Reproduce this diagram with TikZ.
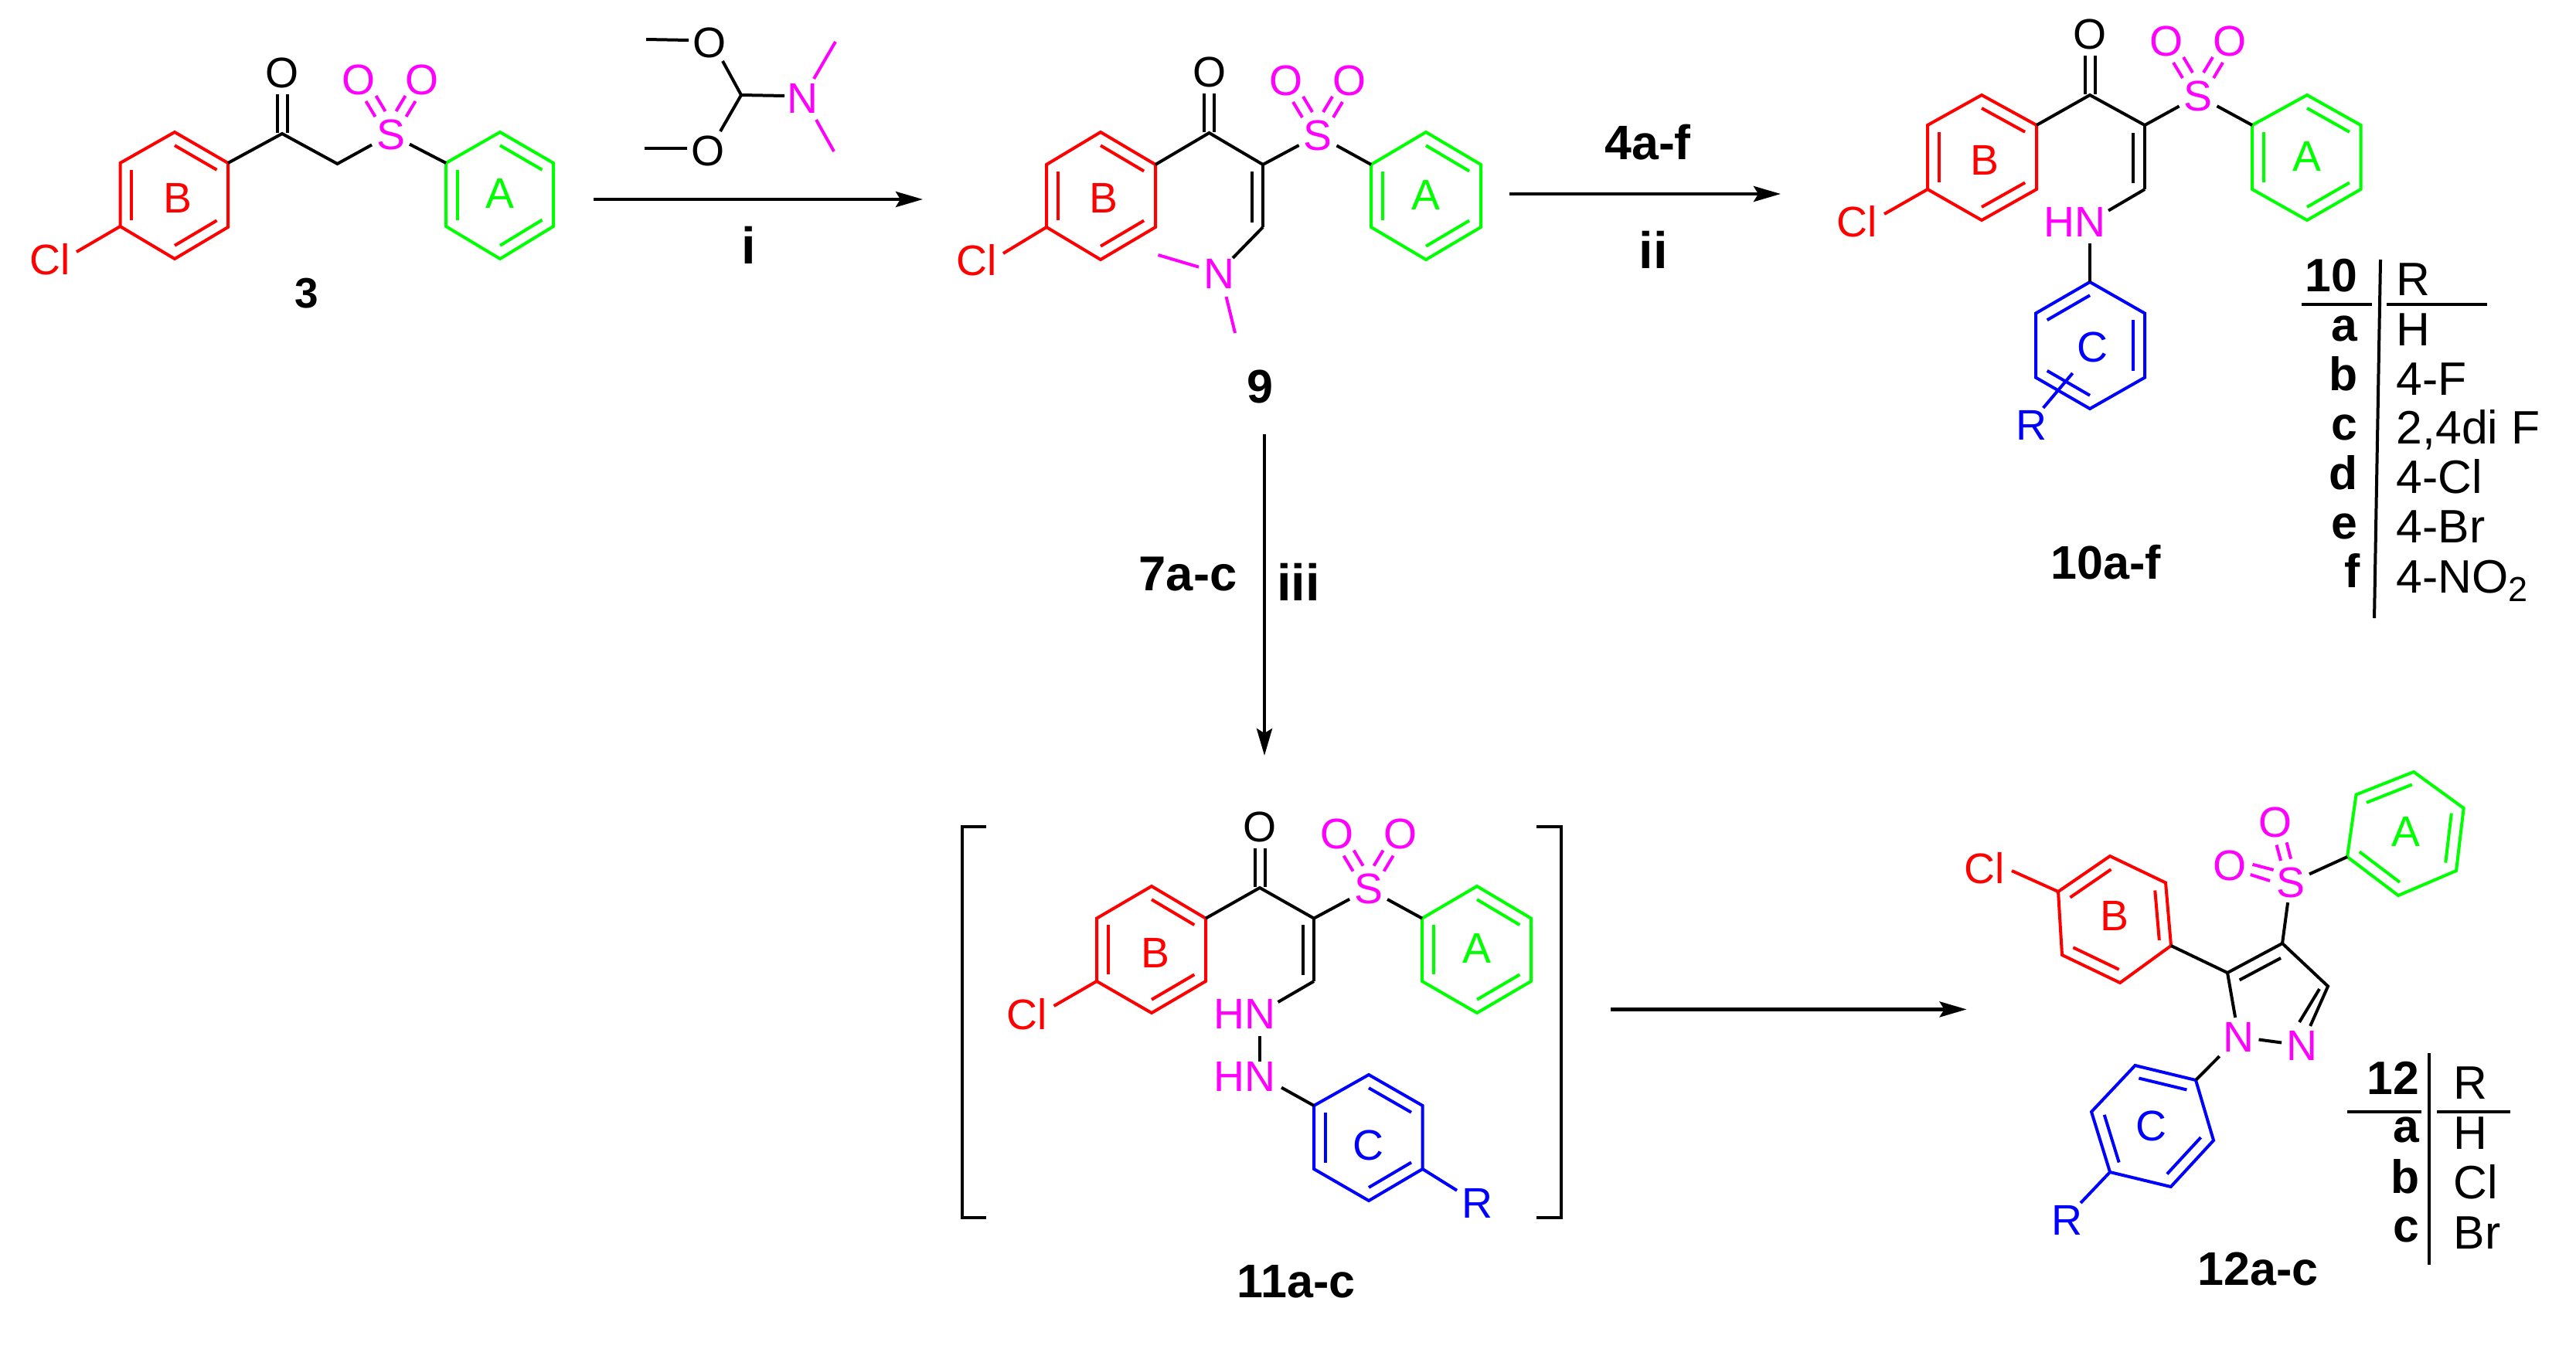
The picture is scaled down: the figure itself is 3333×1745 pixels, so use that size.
\documentclass[tikz,border=0pt]{standalone}
\usepackage{fontspec}
\setmainfont{Liberation Sans}
\usetikzlibrary{calc,arrows.meta}
\definecolor{cred}{RGB}{255,0,0}
\definecolor{cgreen}{RGB}{0,255,0}
\definecolor{cblue}{RGB}{0,0,255}
\definecolor{cmag}{RGB}{255,0,255}
\newcommand\atomfs{\fontsize{16.6}{18}\selectfont}
\newcommand\tabfs{\fontsize{18.2}{20}\selectfont}
\newcommand\cmpfs{\fontsize{18.3}{20}\selectfont\bfseries}
\tikzset{
  atomlab/.style={inner sep=1.8pt,outer sep=0pt,font=\atomfs},
  ringlab/.style={inner sep=0pt,font=\atomfs},
  baselab/.style={inner sep=0pt,anchor=base,font=\cmpfs},
  boldtab/.style={inner sep=0pt,anchor=base east,font=\tabfs\bfseries},
  plaintab/.style={inner sep=0pt,anchor=base west,font=\tabfs},
  bond/.style={line width=1.2pt},
  tabline/.style={line width=1.2pt},
  brk/.style={line width=1.2pt},
  rxn/.style={line width=1.4pt,-{Stealth[length=10.5pt,width=6pt,inset=1.8pt]}},
}
% ring: name, colour, six vertices
\newcommand\ringsix[8]{%
  \coordinate (#1-1) at (#3);\coordinate (#1-2) at (#4);\coordinate (#1-3) at (#5);
  \coordinate (#1-4) at (#6);\coordinate (#1-5) at (#7);\coordinate (#1-6) at (#8);
  \coordinate (#1-c) at ($(#1-1)!.5!(#1-4)$);
  \draw[bond,#2] (#1-1)--(#1-2)--(#1-3)--(#1-4)--(#1-5)--(#1-6)--cycle;}
% inner line of a double bond in ring: name, colour, i, j
\newcommand\rdbl[4]{\draw[bond,#2] ($(#1-#3)!.21!(#1-c)$) -- ($(#1-#4)!.21!(#1-c)$);}
% bond with two named free ends
\newcommand\bnd[4]{\coordinate (#2a) at (#3);\coordinate (#2b) at (#4);\draw[bond,#1] (#2a)--(#2b);}
% sulfone: name, x,y
\newcommand\sulfone[2]{%
  \begin{scope}[shift={(#2)}]
  \node[atomlab,text=cmag] (#1s) at (0,0) {S};
  \node[atomlab,text=cmag] (#1ol) at (-41,-71) {O};
  \node[atomlab,text=cmag] (#1or) at (41,-71) {O};
  \bnd{cmag}{#1p}{-32,-43}{-20,-23}
  \bnd{cmag}{#1q}{-19,-50}{-7,-30}
  \bnd{cmag}{#1r}{32,-43}{20,-23}
  \bnd{cmag}{#1t}{19,-50}{7,-30}
  \end{scope}}
% carbonyl: name, x,y
\newcommand\carbonyl[2]{%
  \begin{scope}[shift={(#2)}]
  \coordinate (#1c) at (0,0);
  \node[atomlab] (#1o) at (0,-79) {O};
  \bnd{black}{#1p}{-6.5,-51}{-6.5,-1}
  \bnd{black}{#1q}{6.5,-51}{6.5,-1}
  \end{scope}}
\begin{document}
\begin{tikzpicture}[x=0.3pt,y=-0.3pt]
\useasboundingbox (0,0) rectangle (3333,1745);
\fill[white] (0,0) rectangle (3333,1745);

% ---------- compound 3
\ringsix{b3}{cred}{226,171}{295,211}{295,294}{226,335}{155.5,293}{155.5,211}
\rdbl{b3}{cred}{1}{2}\rdbl{b3}{cred}{3}{4}\rdbl{b3}{cred}{5}{6}
\ringsix{a3}{cgreen}{647,171}{716,211}{716,293}{647,335}{577,293}{577,211}
\rdbl{a3}{cgreen}{1}{2}\rdbl{a3}{cgreen}{3}{4}\rdbl{a3}{cgreen}{5}{6}
\node[ringlab,text=cred] (lb3) at (230,256) {B};
\node[ringlab,text=cgreen] (la3) at (647,250) {A};
\node[atomlab,text=cred] (cl3) at (64.5,336) {Cl};
\coordinate (cl3e) at (99,326);
\draw[bond,cred] (b3-5) -- (cl3e);
\carbonyl{co3}{365,173}
\coordinate (ch3) at (436.5,212);
\sulfone{so3}{505.5,174}
\draw[bond] (b3-2) -- (co3c) -- (ch3) -- (so3s);
\draw[bond] (so3s) -- (a3-6);
\node[baselab,font=\fontsize{16.5}{18}\selectfont\bfseries] (n3) at (397,398) {3};

% ---------- reagent
\node[atomlab] (ro1) at (918.5,55) {O};
\node[atomlab] (ro2) at (915.6,195) {O};
\node[atomlab,text=cmag] (rn) at (1038,127) {N};
\coordinate (rc) at (959,123);
\bnd{black}{rm1}{836,51}{891,52}
\bnd{black}{rm2}{834,192}{889,192}
\bnd{black}{rb1}{935,79}{959,123}
\bnd{black}{rb2}{932,170}{959,123}
\bnd{black}{rb3}{959,123}{1015,124}
\bnd{cmag}{rb4}{1053,102}{1081,54}
\bnd{cmag}{rb5}{1056,155}{1079,196}

% ---------- compound 9
\ringsix{b9}{cred}{1424,171}{1495,213}{1495,294}{1424,336}{1354,294}{1354,213}
\rdbl{b9}{cred}{1}{2}\rdbl{b9}{cred}{3}{4}\rdbl{b9}{cred}{5}{6}
\ringsix{a9}{cgreen}{1845,171}{1916,213}{1916,294}{1845,336}{1774,294}{1774,213}
\rdbl{a9}{cgreen}{1}{2}\rdbl{a9}{cgreen}{3}{4}\rdbl{a9}{cgreen}{5}{6}
\node[ringlab,text=cred] (lb9) at (1428,256) {B};
\node[ringlab,text=cgreen] (la9) at (1845,252) {A};
\node[atomlab,text=cred] (cl9) at (1264,337) {Cl};
\coordinate (cl9e) at (1298,328);
\draw[bond,cred] (b9-5) -- (cl9e);
\carbonyl{co9}{1564.5,172}
\coordinate (al9) at (1634,213);
\coordinate (vi9) at (1634,294);
\sulfone{so9}{1705,175}
\draw[bond] (b9-2) -- (co9c) -- (al9) -- (so9s);
\draw[bond] (so9s) -- (a9-6);
\draw[bond] (al9) -- (vi9);
\bnd{black}{in9}{1619.5,222}{1619.5,288}
\node[atomlab,text=cmag] (n9) at (1577,354) {N};
\coordinate (n9e) at (1595,334);
\draw[bond] (vi9) -- (n9e);
\bnd{cmag}{m9a}{1498.5,330}{1551,345.6}
\bnd{cmag}{m9b}{1586.5,384}{1598,431}
\node[baselab] (l9) at (1630,521) {9};

% ---------- compound 10
\ringsix{b10}{cred}{2564,123}{2635,162}{2635,245}{2564,285}{2494,245}{2494,162}
\rdbl{b10}{cred}{1}{2}\rdbl{b10}{cred}{3}{4}\rdbl{b10}{cred}{5}{6}
\ringsix{a10}{cgreen}{2985,123}{3054.5,162}{3054.5,245}{2985,285}{2914,245}{2914,162}
\rdbl{a10}{cgreen}{1}{2}\rdbl{a10}{cgreen}{3}{4}\rdbl{a10}{cgreen}{5}{6}
\node[ringlab,text=cred] (lb10) at (2568,207.5) {B};
\node[ringlab,text=cgreen] (la10) at (2985,202) {A};
\node[atomlab,text=cred] (cl10) at (2403,287) {Cl};
\coordinate (cl10e) at (2438,277);
\draw[bond,cred] (b10-5) -- (cl10e);
\carbonyl{co10}{2704,123}
\coordinate (al10) at (2775,162);
\coordinate (vi10) at (2775,245);
\sulfone{so10}{2844,124}
\draw[bond] (b10-2) -- (co10c) -- (al10) -- (so10s);
\draw[bond] (so10s) -- (a10-6);
\draw[bond] (al10) -- (vi10);
\bnd{black}{in10}{2759.7,172}{2759.7,236.6}
\node[atomlab,text=cmag] (hn10) at (2684,287) {HN};
\coordinate (hn10e) at (2728,272.6);
\coordinate (hn10s) at (2704,315);
\draw[bond] (vi10) -- (hn10e);
\ringsix{c10}{cblue}{2704,365}{2775,405.5}{2775,488.6}{2704,529}{2634,488.6}{2634,405.5}
\rdbl{c10}{cblue}{6}{1}\rdbl{c10}{cblue}{2}{3}\rdbl{c10}{cblue}{4}{5}
\draw[bond] (hn10s) -- (c10-1);
\node[ringlab,text=cblue] (lc10) at (2707,449) {C};
\node[atomlab,text=cblue] (r10) at (2628.5,550.5) {R};
\bnd{cblue}{rb10}{2643.6,528}{2681.6,483}
\node[baselab] (l10) at (2725,749) {10a-f};

% table 10
\draw[tabline] (3080,336) coordinate (tv10a) -- (3072,800) coordinate (tv10b);
\draw[tabline] (2978,394) coordinate (th10a) -- (3069,394) coordinate (th10b);
\draw[tabline] (3088,394) coordinate (th10c) -- (3218,394) coordinate (th10d);
\node[boldtab] (t10h) at (3051,377) {10};
\node[plaintab] (t10r) at (3100,382) {R};
\node[boldtab] (t10a) at (3051,441) {a};
\node[plaintab] (t10aa) at (3100,447) {H};
\node[boldtab] (t10b) at (3051,505.6) {b};
\node[plaintab] (t10bb) at (3100,511) {4-F};
\node[boldtab] (t10c) at (3051,569) {c};
\node[plaintab] (t10cc) at (3100,574) {2,4di F};
\node[boldtab] (t10d) at (3051,633.7) {d};
\node[plaintab] (t10dd) at (3100,638) {4-Cl};
\node[boldtab] (t10e) at (3051,697.7) {e};
\node[plaintab] (t10ee) at (3100,702.5) {4-Br};
\node[boldtab] (t10f) at (3054,760.7) {f};
\node[plaintab] (t10ff) at (3100,767.6) {4-NO\raisebox{-3.2pt}{\fontsize{13.5}{14}\selectfont 2}};

% ---------- compound 11
\draw[brk] (1276,1070) coordinate (bl1) -- (1245,1070) -- (1245,1576) -- (1276,1576) coordinate (bl2);
\draw[brk] (1988,1070) coordinate (br1) -- (2020,1070) -- (2020,1576) -- (1988,1576) coordinate (br2);
\ringsix{b11}{cred}{1490,1147}{1560,1188.6}{1560,1270}{1490,1311}{1419,1270}{1419,1188.6}
\rdbl{b11}{cred}{1}{2}\rdbl{b11}{cred}{3}{4}\rdbl{b11}{cred}{5}{6}
\ringsix{a11}{cgreen}{1911,1147}{1981,1188.6}{1981,1270}{1911,1311}{1840,1270}{1840,1188.6}
\rdbl{a11}{cgreen}{1}{2}\rdbl{a11}{cgreen}{3}{4}\rdbl{a11}{cgreen}{5}{6}
\node[ringlab,text=cred] (lb11) at (1494.5,1233) {B};
\node[ringlab,text=cgreen] (la11) at (1911,1227) {A};
\node[atomlab,text=cred] (cl11) at (1329,1312.6) {Cl};
\coordinate (cl11e) at (1363.6,1302);
\draw[bond,cred] (b11-5) -- (cl11e);
\carbonyl{co11}{1630,1149}
\coordinate (al11) at (1700,1188.6);
\coordinate (vi11) at (1700,1270);
\sulfone{so11}{1770.6,1150.6}
\draw[bond] (b11-2) -- (co11c) -- (al11) -- (so11s);
\draw[bond] (so11s) -- (a11-6);
\draw[bond] (al11) -- (vi11);
\bnd{black}{in11}{1686,1197}{1686,1262}
\node[atomlab,text=cmag] (hn11a) at (1610,1312.6) {HN};
\node[atomlab,text=cmag] (hn11b) at (1610,1393) {HN};
\coordinate (hn11e) at (1653.5,1297);
\draw[bond] (vi11) -- (hn11e);
\bnd{black}{nn11}{1630,1341}{1630,1374}
\ringsix{c11}{cblue}{1771,1391}{1840.6,1431}{1840.6,1513}{1771,1554}{1700,1513}{1700,1431}
\rdbl{c11}{cblue}{1}{2}\rdbl{c11}{cblue}{3}{4}\rdbl{c11}{cblue}{5}{6}
\coordinate (hn11f) at (1658,1407.6);
\draw[bond] (hn11f) -- (c11-6);
\node[ringlab,text=cblue] (lc11) at (1770,1482) {C};
\node[atomlab,text=cblue] (r11) at (1911,1557) {R};
\draw[bond,cblue] (c11-3) -- (r11);
\node[baselab] (l11) at (1677,1679) {11a-c};

% ---------- compound 12
\ringsix{b12}{cred}{2730,1108}{2802,1142.5}{2809,1224}{2743,1272}{2668,1236}{2663,1154}
\rdbl{b12}{cred}{6}{1}\rdbl{b12}{cred}{2}{3}\rdbl{b12}{cred}{4}{5}
\ringsix{a12}{cgreen}{3037,1109}{3048.5,1028.5}{3123,999}{3187.6,1046}{3178,1127}{3103,1159}
\rdbl{a12}{cgreen}{1}{6}\rdbl{a12}{cgreen}{2}{3}\rdbl{a12}{cgreen}{4}{5}
\ringsix{c12}{cblue}{2841,1398}{2762.5,1379}{2706,1439}{2730,1517}{2808.7,1536}{2864,1476}
\rdbl{c12}{cblue}{1}{2}\rdbl{c12}{cblue}{3}{4}\rdbl{c12}{cblue}{5}{6}
\node[ringlab,text=cred] (lb12) at (2735.5,1185) {B};
\node[ringlab,text=cgreen] (la12) at (3113,1076) {A};
\node[ringlab,text=cblue] (lc12) at (2783,1457) {C};
\node[atomlab,text=cred] (cl12) at (2568,1123.5) {Cl};
\coordinate (cl12e) at (2603,1127);
\draw[bond,cred] (b12-6) -- (cl12e);
\node[atomlab,text=cblue] (r12) at (2674,1579) {R};
\coordinate (r12e) at (2692,1557);
\draw[bond,cblue] (c12-4) -- (r12e);
\coordinate (c5) at (2882,1259);
\coordinate (c4) at (2953,1221);
\coordinate (c3) at (3012,1276.5);
\node[atomlab,text=cmag] (n1) at (2896.5,1342) {N};
\node[atomlab,text=cmag] (n2) at (2978,1353) {N};
\node[atomlab,text=cmag] (s12) at (2963.5,1142.5) {S};
\node[atomlab,text=cmag] (o12a) at (2944,1064) {O};
\node[atomlab,text=cmag] (o12b) at (2885,1120) {O};
\draw[bond] (b12-3) -- (c5) -- (c4) -- (c3) -- (n2);
\draw[bond] (c5) -- (n1);
\draw[bond] (n1) -- (n2);
\draw[bond] (n1) -- (c12-1);
\draw[bond] (c4) -- (s12);
\draw[bond] (s12) -- (a12-1);
\bnd{black}{in12a}{2897.6,1268.4}{2951,1240}
\bnd{black}{in12b}{3001,1280}{2975,1323}
\bnd{cmag}{so12a}{2945.5,1093.6}{2951,1114}
\bnd{cmag}{so12b}{2958.5,1090.3}{2964,1111.6}
\bnd{cmag}{so12c}{2914.5,1118.8}{2941.6,1125.9}
\bnd{cmag}{so12d}{2911.7,1132}{2937,1140}
\node[baselab] (l12) at (2921.5,1663.7) {12a-c};

% table 12
\draw[tabline] (3142.6,1363) coordinate (tv12a) -- (3142.6,1636.6) coordinate (tv12b);
\draw[tabline] (3037,1439.4) coordinate (th12a) -- (3133,1439.4) coordinate (th12b);
\draw[tabline] (3153,1439.4) coordinate (th12c) -- (3248,1439.4) coordinate (th12d);
\node[boldtab] (t12h) at (3131,1416.6) {12};
\node[plaintab] (t12r) at (3174,1422.8) {R};
\node[boldtab] (t12a) at (3131,1478.4) {a};
\node[plaintab] (t12aa) at (3174,1487.9) {H};
\node[boldtab] (t12b) at (3131,1544) {b};
\node[plaintab] (t12bb) at (3174,1551) {Cl};
\node[boldtab] (t12c) at (3131,1607) {c};
\node[plaintab] (t12cc) at (3174,1616.6) {Br};

% ---------- reaction arrows
\coordinate (ar1a) at (768,258);\coordinate (ar1b) at (1194,258);
\coordinate (ar2a) at (1953,251);\coordinate (ar2b) at (2304,251);
\coordinate (ar3a) at (1636,562);\coordinate (ar3b) at (1636,978);
\coordinate (ar4a) at (2084,1306.4);\coordinate (ar4b) at (2544.6,1306.4);
\draw[rxn] (ar1a) -- (ar1b);
\draw[rxn] (ar2a) -- (ar2b);
\draw[rxn] (ar3a) -- (ar3b);
\draw[rxn] (ar4a) -- (ar4b);
\node[baselab,font=\fontsize{20}{22}\selectfont\bfseries] (lbi) at (968.5,341) {i};
\node[baselab,font=\fontsize{18.8}{20}\selectfont\bfseries] (lb4) at (2132,206.7) {4a-f};
\node[baselab,font=\fontsize{20}{22}\selectfont\bfseries] (lbii) at (2139,347.5) {ii};
\node[baselab,font=\fontsize{19}{20}\selectfont\bfseries] (lb7) at (1537,764) {7a-c};
\node[baselab,font=\fontsize{20}{22}\selectfont\bfseries] (lbiii) at (1680,777) {iii};
\end{tikzpicture}
\end{document}
